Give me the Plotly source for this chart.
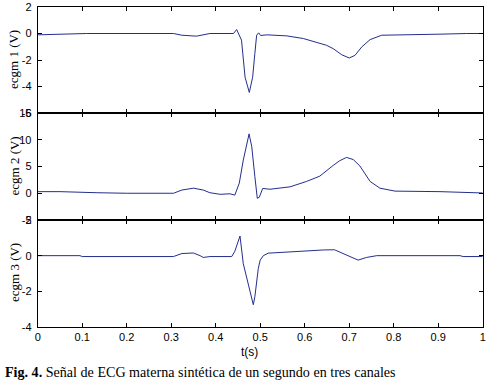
import plotly.graph_objects as go

W, H = 492, 389

# ---- data ----
t1 = [0, 0.046, 0.11, 0.305, 0.324, 0.357, 0.387, 0.44, 0.447, 0.458, 0.466, 0.4755, 0.483, 0.488,
      0.492, 0.4966, 0.501, 0.515, 0.56, 0.597, 0.634, 0.649, 0.664, 0.683, 0.700, 0.713, 0.728,
      0.747, 0.773, 0.897, 0.904, 0.964, 1.0]
v1 = [-0.1, -0.07, 0, 0, -0.13, -0.2, 0, 0, 0.3, -0.5, -3.3, -4.45, -3.3, -1.5,
      -0.13, 0.05, -0.15, -0.1, -0.18, -0.38, -0.76, -0.89, -1.14, -1.6, -1.85, -1.65, -1.02,
      -0.46, -0.13, -0.1, -0.05, 0, 0]

t2 = [0, 0.05, 0.133, 0.2, 0.305, 0.324, 0.35, 0.372, 0.387, 0.41, 0.432, 0.443, 0.453, 0.462,
      0.475, 0.481, 0.488, 0.4935, 0.498, 0.5056, 0.522, 0.567, 0.604, 0.634, 0.664, 0.679, 0.694,
      0.709, 0.724, 0.747, 0.769, 0.803, 0.904, 1.0]
v2 = [0.3, 0.3, 0.1, 0.0, 0.0, 0.6, 0.95, 0.6, 0.1, -0.2, -0.1, -0.35, 1.9, 6.2,
      11.1, 8.7, 3.1, -0.95, -0.75, 0.9, 0.75, 1.2, 2.2, 3.2, 5.2, 6.1, 6.7,
      6.3, 5.1, 2.2, 0.95, 0.4, 0.3, 0.05]

t3 = [0, 0.095, 0.1, 0.305, 0.324, 0.35, 0.365, 0.372, 0.387, 0.436, 0.443, 0.447, 0.4546, 0.462,
      0.466, 0.477, 0.4845, 0.488, 0.4957, 0.5, 0.507, 0.518, 0.567, 0.642, 0.667, 0.694, 0.72,
      0.739, 0.762, 0.949, 0.956, 1.0]
v3 = [0, 0, -0.05, -0.05, 0.12, 0.15, 0.0, -0.1, -0.05, -0.05, 0.25, 0.55, 1.1, -0.45,
      -0.85, -2.1, -2.75, -2.3, -0.72, -0.25, 0.0, 0.14, 0.22, 0.32, 0.33, 0.04, -0.25,
      -0.1, 0.0, 0.0, -0.05, -0.05]

x_ticks = [0, 0.1, 0.2, 0.3, 0.4, 0.5, 0.6, 0.7, 0.8, 0.9, 1]
x_ticktext = ["0", "0.1", "0.2", "0.3", "0.4", "0.5", "0.6", "0.7", "0.8", "0.9", "1"]
y1_ticks = [-6, -4, -2, 0, 2]
y2_ticks = [-5, 0, 5, 10, 15]
y3_ticks = [-4, -2, 0, 2]
y_titles = ["ecgm 1 (V)", "ecgm 2 (V)", "ecgm 3 (V)"]
x_title = "t(s)"
caption_bold = "Fig. 4."
caption_text = "Señal de ECG materna sintética de un segundo en tres canales"

LINE = "#232e8c"
TICKFONT = dict(family="Liberation Sans, Arial, sans-serif", size=11, color="black")
SERIF = "Liberation Serif, Times New Roman, serif"

def px_x(p):
    return p / W

def px_y(p):
    return 1 - p / H

x0, x1 = px_x(37.7), px_x(482.7)
doms = [(px_y(113), px_y(7)), (px_y(220), px_y(113)), (px_y(327), px_y(220))]

fig = go.Figure()
for i, (t, v) in enumerate([(t1, v1), (t2, v2), (t3, v3)]):
    sfx = "" if i == 0 else str(i + 1)
    fig.add_trace(go.Scatter(x=t, y=v, mode="lines", line=dict(color=LINE, width=1),
                             xaxis="x" + sfx, yaxis="y" + sfx, showlegend=False,
                             hoverinfo="skip"))

def hyph(vals):
    return [str(v) for v in vals]

axis_common = dict(showline=True, linecolor="black", linewidth=1, mirror="ticks",
                   ticks="inside", ticklen=4, tickcolor="black", tickwidth=1,
                   showgrid=False, zeroline=False, tickfont=TICKFONT, automargin=False)

layout = dict(width=W, height=H, margin=dict(l=0, r=0, t=0, b=0, pad=0),
              template="none", plot_bgcolor="white", paper_bgcolor="white")

yticks = [y1_ticks, y2_ticks, y3_ticks]
yranges = [[-6, 2], [-5, 15], [-4, 2]]
for i in range(3):
    sfx = "" if i == 0 else str(i + 1)
    xa = dict(axis_common, domain=[x0, x1], range=[0, 1], anchor="y" + sfx,
              tickvals=x_ticks, ticktext=x_ticktext, showticklabels=(i == 2))
    ya = dict(axis_common, domain=list(doms[i]), range=yranges[i], anchor="x" + sfx,
              tickvals=yticks[i], ticktext=hyph(yticks[i]), ticklabelstandoff=3)
    layout["xaxis" + sfx] = xa
    layout["yaxis" + sfx] = ya

fig.update_layout(**layout)

ann = []
centers = [60, 166.5, 273]
for i in range(3):
    ann.append(dict(x=px_x(14), y=px_y(centers[i]), xref="paper", yref="paper",
                    text=y_titles[i], textangle=-90, showarrow=False,
                    xanchor="center", yanchor="middle",
                    font=dict(family=SERIF, size=13, color="black")))
ann.append(dict(x=px_x(249), y=px_y(352), xref="paper", yref="paper", text=x_title,
                showarrow=False, xanchor="center", yanchor="middle",
                font=dict(family="Liberation Sans, Arial, sans-serif", size=12, color="black")))
ann.append(dict(x=px_x(3), y=px_y(372), xref="paper", yref="paper",
                text="<b>" + caption_bold + "</b> " + caption_text,
                showarrow=False, xanchor="left", yanchor="middle",
                font=dict(family=SERIF, size=14.1, color="black")))
fig.update_layout(annotations=ann)

fig.write_html("out.html", config={"displayModeBar": False},
               post_script="document.body.style.margin='0';document.body.style.overflow='hidden';")
